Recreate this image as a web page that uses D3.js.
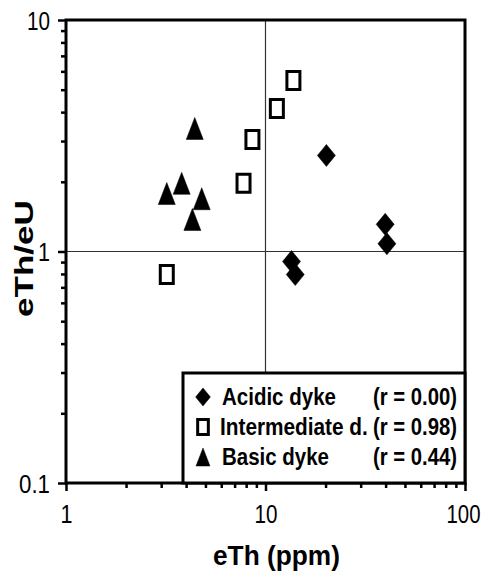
<!DOCTYPE html>
<html>
<head>
<meta charset="utf-8">
<script src="https://cdn.jsdelivr.net/npm/d3@7"></script>
<style>
  body { margin: 0; background: #fff; }
  svg { display: block; }
</style>
</head>
<body>
<div id="chart"></div>
<script>
// data
const acidicX = [20.2, 39.8, 40.6, 13.5, 14.1];
const acidicY = [2.6, 1.31, 1.08, 0.905, 0.795];
const interX = [13.8, 11.4, 8.6, 7.76, 3.2];
const interY = [5.48, 4.15, 3.05, 1.97, 0.795];
const basicX = [4.42, 3.8, 3.2, 4.79, 4.3];
const basicY = [3.4, 1.97, 1.78, 1.69, 1.375];

const seriesNames = ["Acidic dyke", "Intermediate d.", "Basic dyke"];
const seriesR = ["(r = 0.00)", "(r = 0.98)", "(r = 0.44)"];
const seriesShape = ["diamond", "square", "triangle"];

const xTicks = [1, 10, 100];
const yTicks = [0.1, 1, 10];
const xMinor = [2,3,4,5,6,7,8,9,20,30,40,50,60,70,80,90];
const yMinor = [0.2,0.3,0.4,0.5,0.6,0.7,0.8,0.9,2,3,4,5,6,7,8,9];

const W = 483, H = 572;
const pLeft = 66, pRight = 465, pTop = 20, pBottom = 483;

const svg = d3.select("#chart").append("svg")
  .attr("width", W).attr("height", H);

const x = d3.scaleLog().domain([1, 100]).range([pLeft, pRight]);
const y = d3.scaleLog().domain([0.1, 10]).range([pBottom, pTop]);

const font = "'Liberation Sans', Arial, sans-serif";

// the picture's text is narrower than its height; squeeze it sideways
function squeeze(t, px, py, w, rot) {
  const nat = t.node().getComputedTextLength();
  t.attr("x", 0).attr("y", 0)
   .attr("transform", `translate(${px},${py})${rot ? " rotate(" + rot + ")" : ""} scale(${w / nat},1)`);
}

// marker paths (a bit taller than wide, like the picture)
function shapePath(kind, s) {
  if (kind === "diamond") {
    return `M0,${-11*s} L${9*s},0 L0,${11*s} L${-9*s},0 Z`;
  }
  if (kind === "square") {
    return `M${-6.5*s},${-9*s} H${6.5*s} V${9*s} H${-6.5*s} Z`;
  }
  return `M0,${-11*s} L${8.5*s},${11*s} L${-8.5*s},${11*s} Z`;
}
function drawMarker(g, kind, s) {
  g.append("path")
    .attr("d", shapePath(kind, s))
    .attr("fill", kind === "square" ? "#fff" : "#000")
    .attr("stroke", "#000")
    .attr("stroke-width", kind === "square" ? 3 : 0.5)
    .attr("stroke-linejoin", "miter");
}

// reference lines at 10 and 1
svg.append("line")
  .attr("x1", x(10)).attr("x2", x(10))
  .attr("y1", y(10)).attr("y2", y(0.1))
  .attr("stroke", "#333").attr("stroke-width", 1.2);
svg.append("line")
  .attr("x1", x(1)).attr("x2", x(100))
  .attr("y1", y(1)).attr("y2", y(1))
  .attr("stroke", "#333").attr("stroke-width", 1.2);

// axes
const labelLen = { "1": 12, "10": 23, "100": 34, "0.1": 31 };

const xAxis = svg.append("g")
  .attr("transform", `translate(0,${pBottom})`)
  .call(d3.axisBottom(x).tickValues(xTicks).tickSize(8).tickFormat(d3.format("d")));
svg.append("g")
  .attr("transform", `translate(0,${pBottom})`)
  .call(d3.axisBottom(x).tickValues(xMinor).tickSize(5).tickFormat(""));

const yAxis = svg.append("g")
  .attr("transform", `translate(${pLeft},0)`)
  .call(d3.axisLeft(y).tickValues(yTicks).tickSize(8).tickFormat(d => d < 1 ? "0.1" : d3.format("d")(d)));
svg.append("g")
  .attr("transform", `translate(${pLeft},0)`)
  .call(d3.axisLeft(y).tickValues(yMinor).tickSize(5).tickFormat(""));

svg.selectAll(".domain").remove();
svg.selectAll(".tick line").attr("stroke", "#000").attr("stroke-width", 2.5);

xAxis.selectAll("text")
  .attr("dy", 0)
  .attr("fill", "#000")
  .style("font-family", font).style("font-size", "25px")
  .each(function(d) {
    squeeze(d3.select(this), d === 100 ? -2 : 0, 40, labelLen[this.textContent]);
  });
yAxis.selectAll("text")
  .attr("dy", "0.36em")
  .attr("fill", "#000")
  .style("font-family", font).style("font-size", "25px")
  .each(function() {
    squeeze(d3.select(this), -16, 0, labelLen[this.textContent]);
  });

// frame
svg.append("rect")
  .attr("x", pLeft).attr("y", pTop)
  .attr("width", pRight - pLeft).attr("height", pBottom - pTop)
  .attr("fill", "none").attr("stroke", "#000").attr("stroke-width", 3);

// points
const groups = [
  { kind: "diamond", xs: acidicX, ys: acidicY },
  { kind: "square", xs: interX, ys: interY },
  { kind: "triangle", xs: basicX, ys: basicY }
];
groups.forEach(grp => {
  grp.xs.forEach((v, i) => {
    const g = svg.append("g")
      .attr("transform", `translate(${x(v)},${y(grp.ys[i])})`);
    drawMarker(g, grp.kind, 1);
  });
});

// legend
const lg = svg.append("g");
lg.append("rect")
  .attr("x", 183).attr("y", 373)
  .attr("width", pRight - 183).attr("height", pBottom - 373)
  .attr("fill", "#fff").attr("stroke", "#000").attr("stroke-width", 3);

const nameLen = [114, 148, 107];
seriesNames.forEach((name, i) => {
  const by = 405 + i * 30;
  const g = lg.append("g").attr("transform", `translate(203,${by - 8})`);
  drawMarker(g, seriesShape[i], 0.82);
  const t1 = lg.append("text")
    .style("font-family", font).style("font-size", "24px").style("font-weight", "bold")
    .text(name);
  squeeze(t1, i === 1 ? 220 : 222, by, nameLen[i]);
  const t2 = lg.append("text")
    .style("font-family", font).style("font-size", "24px").style("font-weight", "bold")
    .text(seriesR[i]);
  squeeze(t2, 373, by, 84);
});

// axis titles
const xt = svg.append("text")
  .style("font-family", font).style("font-size", "28px").style("font-weight", "bold")
  .text("eTh (ppm)");
squeeze(xt, 213, 565, 127);

const yt = svg.append("text")
  .style("font-family", font).style("font-size", "25px").style("font-weight", "bold")
  .text("eTh/eU");
squeeze(yt, 33, 317, 117, -90);
</script>
</body>
</html>
